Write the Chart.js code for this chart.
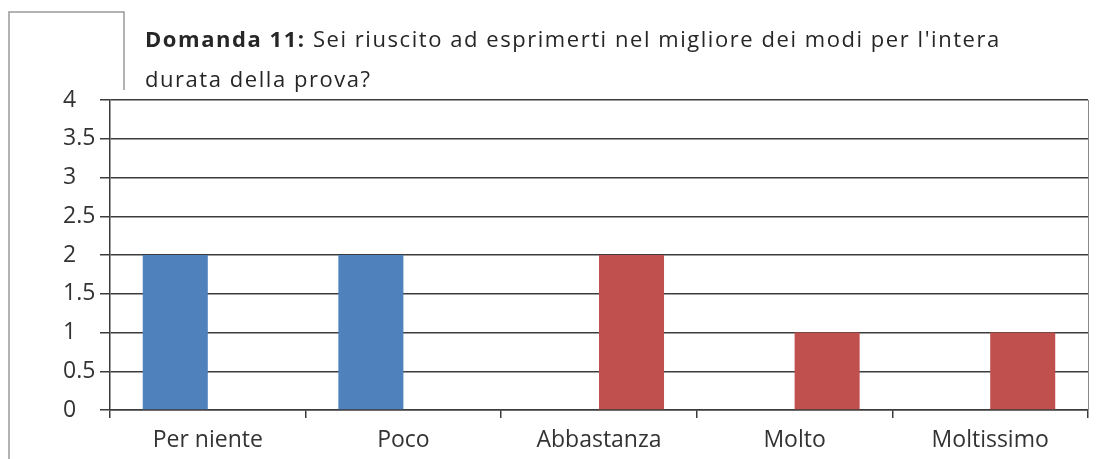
<!DOCTYPE html>
<html>
<head>
<meta charset="utf-8">
<script src="https://cdn.jsdelivr.net/npm/chart.js@4/dist/chart.umd.min.js"></script>
<style>
  body { margin: 0; background: #fff; }
  #wrap { position: relative; width: 1109px; height: 459px; }
  #title {
    position: absolute; left: 145px; top: 18px;
    font-family: 'Open Sans', sans-serif; font-size: 22px; line-height: 40px;
    letter-spacing: 1.55px;
    color: #262626; white-space: nowrap;
  }
  #title b { font-weight: 700; }
</style>
</head>
<body>
<div id="wrap">
  <canvas id="canQ11" width="1109" height="459"></canvas>
  <div id="title"><b>Domanda 11:</b> Sei riuscito ad esprimerti nel migliore dei modi per l'intera<br>durata della prova?</div>
</div>
<script>
const categories = ['Per niente', 'Poco', 'Abbastanza', 'Molto', 'Moltissimo']
const blueValues = [2, 2, null, null, null]
const redValues = [null, null, 2, 1, 1]
const yTicks = [0, 0.5, 1, 1.5, 2, 2.5, 3, 3.5, 4]

const fontAxis = { family: 'Open Sans', size: 23 }
const lineColor = '#3c3c3c'

// frame pieces left over from the original sheet + right edge of the plot
const framePlugin = {
  id: 'frame',
  afterDraw (chart) {
    const ctx = chart.ctx
    const area = chart.chartArea
    ctx.save()
    ctx.strokeStyle = '#9a9a9a'
    ctx.lineWidth = 1.5
    ctx.beginPath()
    ctx.moveTo(9, 459)
    ctx.lineTo(9, 12)
    ctx.lineTo(124, 12)
    ctx.lineTo(124, 90)
    ctx.stroke()
    ctx.strokeStyle = '#8a8a8a'
    ctx.lineWidth = 1
    ctx.beginPath()
    ctx.moveTo(area.right + 0.5, area.top)
    ctx.lineTo(area.right + 0.5, area.bottom)
    ctx.stroke()
    ctx.restore()
  }
}

new Chart(document.getElementById('canQ11'), {
  type: 'bar',
  data: {
    labels: categories,
    datasets: [
      {
        label: 'Serie 1',
        data: blueValues,
        backgroundColor: '#4f81bd',
        categoryPercentage: 0.665,
        barPercentage: 1
      },
      {
        label: 'Serie 2',
        data: redValues,
        backgroundColor: '#c0504d',
        categoryPercentage: 0.665,
        barPercentage: 1
      }
    ]
  },
  options: {
    responsive: false,
    animation: false,
    layout: { padding: { top: 100, left: 63, right: 21, bottom: 0 } },
    plugins: {
      legend: { display: false },
      tooltip: { enabled: false }
    },
    scales: {
      x: {
        grid: { drawOnChartArea: false, tickLength: 8, color: lineColor, lineWidth: 1.5 },
        border: { color: lineColor, width: 1.5 },
        ticks: { color: '#333', font: fontAxis, padding: 9, maxRotation: 0 },
        afterFit (scale) { scale.height = 49 }
      },
      y: {
        min: 0,
        max: 4,
        afterBuildTicks (scale) { scale.ticks = yTicks.map(v => ({ value: v })) },
        grid: { color: lineColor, lineWidth: 1.5, tickLength: 10 },
        border: { color: lineColor, width: 1.5 },
        ticks: {
          color: '#333',
          font: fontAxis,
          crossAlign: 'far',
          callback: v => String(v)
        },
        afterFit (scale) { scale.width = 47 }
      }
    }
  },
  plugins: [framePlugin]
})
</script>
</body>
</html>
